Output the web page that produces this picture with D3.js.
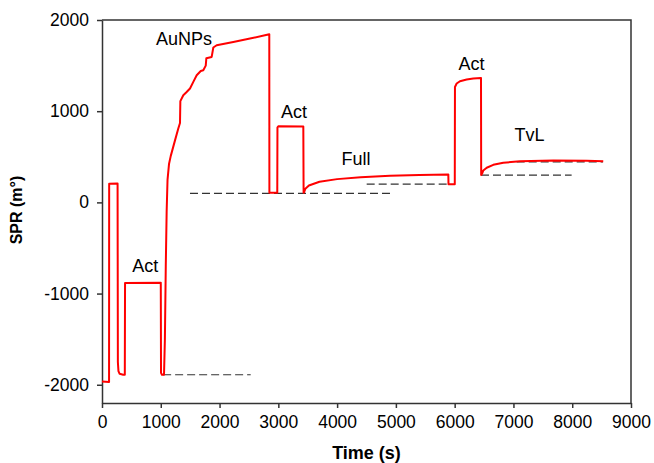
<!DOCTYPE html>
<html>
<head>
<meta charset="utf-8">
<script src="https://cdn.jsdelivr.net/npm/d3@7"></script>
<style>
    body { margin: 0; background: #fff; }
    svg text { font-family: "Liberation Sans", Arial, sans-serif; fill: #000; }
</style>
</head>
<body>
<svg id="chart" width="654" height="463"></svg>
<script>
// time (s) and SPR response (m°)
const time = [0, 120, 122, 265, 270, 280, 300, 360, 388, 392, 1000, 1004, 1020, 1055,
    1070, 1085, 1100, 1115, 1140, 1170, 1242, 1298, 1327, 1333, 1383, 1440, 1497, 1560,
    1611, 1680, 1723, 1765, 1775, 1866, 1894, 1951, 2234, 2518, 2846, 2848, 2982, 2985,
    3000, 3425, 3430, 3437, 3460, 3520, 3700, 4000, 4400, 4900, 5400, 5892, 5895, 6002,
    6005, 6034, 6090, 6204, 6317, 6448, 6451, 6470, 6487, 6545, 6657, 6827, 7111, 7678,
    8246, 8528];
const spr = [-1965, -1970, 205, 208, -1750, -1850, -1880, -1890, -1890, -885, -880, -1870,
    -1890, -1890, -1500, -700, -100, 250, 420, 510, 680, 810, 870, 1110, 1175, 1210, 1249,
    1330, 1394, 1440, 1449, 1500, 1580, 1595, 1698, 1723, 1759, 1796, 1843, 105, 105, 820,
    836, 833, 105, 110, 150, 185, 226, 255, 275, 292, 301, 307, 200, 200, 1266, 1303, 1329,
    1347, 1358, 1365, 299, 320, 350, 380, 412, 435, 450, 458, 457, 450];

// dashed baselines: start, end, level
const baseStart = [1040, 1497, 4503, 6448, 7055];
const baseEnd = [2530, 4928, 5880, 7990, 8523];
const baseLevel = [-1890, 99, 200, 299, 445];

// step labels
const labelText = ['Act', 'AuNPs', 'Act', 'Full', 'Act', 'TvL'];
const labelTime = [737, 1395, 3266, 4321, 6286, 7273];
const labelSpr = [-763, 1723, 929, 409, 1455, 671];

const xTicks = [0, 1000, 2000, 3000, 4000, 5000, 6000, 7000, 8000, 9000];
const yTicks = [-2000, -1000, 0, 1000, 2000];

const svg = d3.select('#chart');
const m = { left: 102, right: 631, top: 20, bottom: 403 };

const x = d3.scaleLinear().domain([0, 9000]).range([m.left, m.right]);
const y = d3.scaleLinear().domain([-2200, 2000]).range([m.bottom, m.top]);

// frame (top and right)
svg.append('path')
    .attr('d', `M${m.left},${m.top}H${m.right}V${m.bottom}`)
    .attr('fill', 'none')
    .attr('stroke', '#333')
    .attr('stroke-width', 1.5);

const fmt = d => String(d);
const xAxis = svg.append('g')
    .attr('transform', `translate(0,${m.bottom})`)
    .call(d3.axisBottom(x).tickValues(xTicks).tickFormat(fmt).tickSize(5).tickPadding(8).tickSizeOuter(0));
const yAxis = svg.append('g')
    .attr('transform', `translate(${m.left},0)`)
    .call(d3.axisLeft(y).tickValues(yTicks).tickFormat(fmt).tickSize(5).tickPadding(8).tickSizeOuter(0));

[xAxis, yAxis].forEach(a => {
    a.selectAll('path, line').attr('stroke', '#333').attr('stroke-width', 1.5);
    a.selectAll('text')
        .style('font-family', '"Liberation Sans", Arial, sans-serif')
        .style('font-size', '17.5px')
        .attr('fill', '#000');
});

// dashed baselines
svg.selectAll('.base')
    .data(baseStart)
    .enter()
    .append('line')
    .attr('class', 'base')
    .attr('x1', d => x(d))
    .attr('x2', (d, i) => x(baseEnd[i]))
    .attr('y1', (d, i) => y(baseLevel[i]))
    .attr('y2', (d, i) => y(baseLevel[i]))
    .attr('stroke', '#333')
    .attr('stroke-width', 1.2)
    .attr('stroke-dasharray', '8,4');

// SPR trace
const line = d3.line()
    .x(d => x(d[0]))
    .y(d => y(d[1]));

svg.append('path')
    .datum(time.map((t, i) => [t, spr[i]]))
    .attr('d', line)
    .attr('fill', 'none')
    .attr('stroke', '#ff0000')
    .attr('stroke-width', 2)
    .attr('stroke-linejoin', 'round');

// labels
svg.selectAll('.lbl')
    .data(labelText)
    .enter()
    .append('text')
    .attr('class', 'lbl')
    .attr('x', (d, i) => x(labelTime[i]))
    .attr('y', (d, i) => y(labelSpr[i]))
    .attr('text-anchor', 'middle')
    .style('font-size', '18px')
    .text(d => d);

// axis titles
svg.append('text')
    .attr('x', (m.left + m.right) / 2)
    .attr('y', 459)
    .attr('text-anchor', 'middle')
    .style('font-size', '18px')
    .style('font-weight', 'bold')
    .text('Time (s)');

svg.append('text')
    .attr('transform', 'translate(22,210) rotate(-90)')
    .attr('text-anchor', 'middle')
    .style('font-size', '16px')
    .style('font-weight', 'bold')
    .text('SPR (m°)');
</script>
</body>
</html>
